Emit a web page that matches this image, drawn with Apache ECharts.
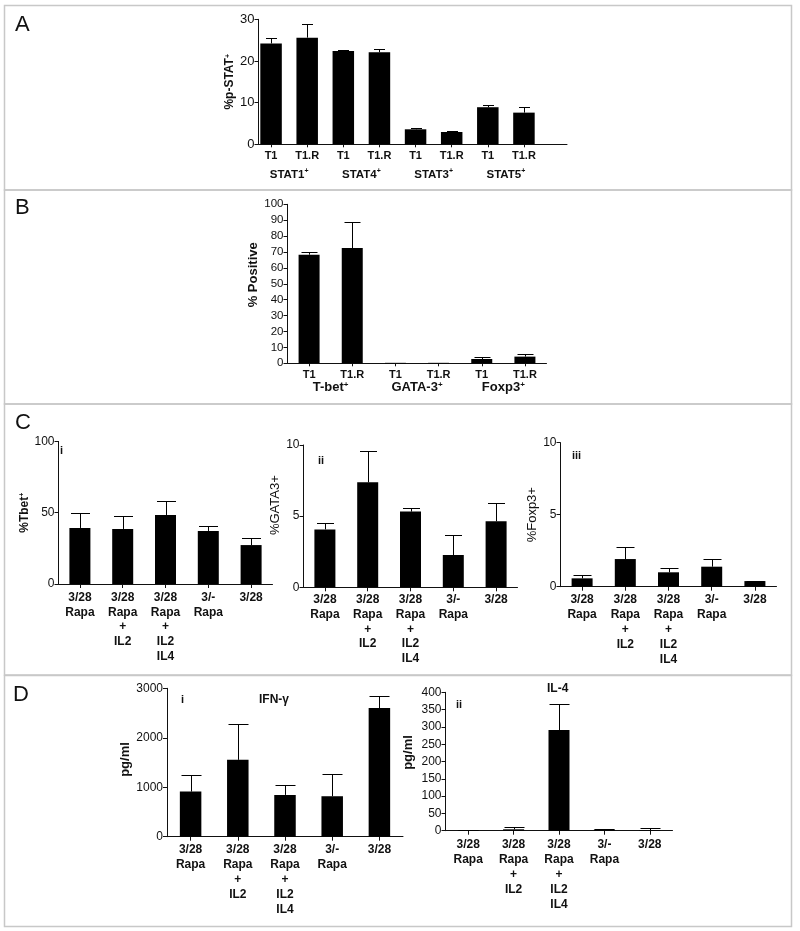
<!DOCTYPE html>
<html><head><meta charset="utf-8">
<script src="https://cdn.jsdelivr.net/npm/echarts@6/dist/echarts.min.js"></script>
<style>html,body{margin:0;padding:0;background:#fff}#c{width:800px;height:931px}</style>
</head><body><div id="c"></div>
<script>
const FONT = '"Liberation Sans", Arial, Helvetica, sans-serif';

// ---- Panel A ----
const A_cats = ['T1', 'T1.R', 'T1', 'T1.R', 'T1', 'T1.R', 'T1', 'T1.R'];
const A_groups = ['STAT1', 'STAT4', 'STAT3', 'STAT5'];
const A_vals = [24.2, 25.6, 22.4, 22.1, 3.6, 2.95, 8.9, 7.6];
const A_sem  = [1.2, 3.2, 0.2, 0.8, 0.3, 0.15, 0.6, 1.3];
// ---- Panel B ----
const B_cats = ['T1', 'T1.R', 'T1', 'T1.R', 'T1', 'T1.R'];
const B_groups = ['T-bet', 'GATA-3', 'Foxp3'];
const B_vals = [68.3, 72.5, 0.3, 0.3, 2.7, 4.2];
const B_sem  = [1.9, 16.5, 0, 0, 1.1, 1.5];
// ---- Panels C & D categories ----
const CD_cats = ['3/28\nRapa', '3/28\nRapa\n+\nIL2', '3/28\nRapa\n+\nIL2\nIL4', '3/-\nRapa', '3/28'];
const Ci_vals = [39.3, 38.6, 48.4, 37.2, 27.3];
const Ci_sem  = [10.3, 9.1, 9.8, 3.5, 4.9];
const Cii_vals = [4.07, 7.38, 5.32, 2.27, 4.64];
const Cii_sem  = [0.47, 2.17, 0.23, 1.38, 1.31];
const Ciii_vals = [0.58, 1.92, 1.0, 1.39, 0.39];
const Ciii_sem  = [0.25, 0.86, 0.27, 0.51, 0.02];
const Di_vals = [912, 1554, 845, 818, 2601];
const Di_sem  = [338, 723, 195, 459, 237];
const Dii_vals = [1.5, 4, 291, 3, 2];
const Dii_sem  = [1, 6, 74, 3, 4.5];

const chart = echarts.init(document.getElementById('c'), null, {renderer: 'canvas'});

const INK = '#111';
const richSup = (size) => ({
  b: {fontFamily: FONT, fontWeight: 'bold', fontSize: size, color: INK},
  s: {fontFamily: FONT, fontWeight: 'bold', fontSize: Math.round(size * 0.62), color: INK, verticalAlign: 'top', lineHeight: Math.round(size * 0.62)}
});

function yAx(g, max, interval, name, nameGap, nameStyle, extra) {
  return Object.assign({
    type: 'value', gridIndex: g, min: 0, max: max, interval: interval,
    axisLine: {show: true, lineStyle: {color: INK, width: 1}},
    axisTick: {show: true, length: 4, lineStyle: {color: INK}},
    axisLabel: {margin: 4, fontSize: 12, color: INK, fontFamily: FONT, formatter: v => String(v)},
    splitLine: {show: false},
    name: name, nameLocation: 'middle', nameGap: nameGap,
    nameTextStyle: Object.assign({fontFamily: FONT, color: INK, fontSize: 12}, nameStyle)
  }, extra || {});
}
function xCat(g, data, margin, labelExtra, extra) {
  return Object.assign({
    type: 'category', gridIndex: g, data: data, position: 'bottom',
    axisLine: {show: true, lineStyle: {color: INK, width: 1}},
    axisTick: {show: true, alignWithLabel: true, length: 4, lineStyle: {color: INK}},
    axisLabel: Object.assign({interval: 0, margin: margin, fontSize: 12, fontWeight: 'bold', lineHeight: 14.8, color: INK, fontFamily: FONT}, labelExtra || {}),
    splitLine: {show: false}
  }, extra || {});
}
function barS(xi, yi, vals, w) {
  return {type: 'bar', xAxisIndex: xi, yAxisIndex: yi, data: vals, barWidth: w,
    itemStyle: {color: '#000'}, silent: true, animation: false};
}
function errS(xi, yi, vals, sem, capW) {
  return {
    type: 'custom', xAxisIndex: xi, yAxisIndex: yi, silent: true, animation: false, z: 5,
    data: vals.map((v, i) => [i, v, v + sem[i]]),
    renderItem: function (params, api) {
      const i = api.value(0), v = api.value(1), e = api.value(2);
      if (!(e > v + 1e-9)) return {type: 'group', children: []};
      const a = api.coord([i, v]), b = api.coord([i, e]);
      const x = Math.round(a[0]) + 0.5, y2 = Math.round(b[1]) + 0.5;
      return {type: 'group', children: [
        {type: 'line', shape: {x1: x, y1: a[1], x2: x, y2: y2}, style: {stroke: '#000', lineWidth: 1}},
        {type: 'line', shape: {x1: x - capW / 2, y1: y2, x2: x + capW / 2, y2: y2}, style: {stroke: '#000', lineWidth: 1}}
      ]};
    }
  };
}

const boxStyle = {fill: 'none', stroke: '#c8c8c8', lineWidth: 1.5};
const t = (text, left, top, size, weight) => ({text: text, left: left, top: top, padding: 0,
  textStyle: {fontFamily: FONT, fontSize: size, fontWeight: weight || 'normal', color: INK}});

const option = {
  backgroundColor: '#fff',
  animation: false,
  title: [
    t('A', 15, 14, 22), t('B', 15, 197, 22), t('C', 15, 412, 22), t('D', 13, 684, 22),
    t('i', 60, 445, 11, 'bold'), t('ii', 318, 455, 11, 'bold'), t('iii', 572, 450, 11, 'bold'),
    t('i', 181, 694, 11, 'bold'), t('IFN-γ', 259, 694, 12, 'bold'),
    t('ii', 456, 699, 11, 'bold'), t('IL-4', 547, 683, 12, 'bold')
  ],
  graphic: [
    {type: 'rect', shape: {x: 4.5, y: 5.5, width: 787, height: 184.5}, style: boxStyle, silent: true},
    {type: 'rect', shape: {x: 4.5, y: 190, width: 787, height: 214}, style: boxStyle, silent: true},
    {type: 'rect', shape: {x: 4.5, y: 404, width: 787, height: 271}, style: boxStyle, silent: true},
    {type: 'rect', shape: {x: 4.5, y: 675.5, width: 787, height: 251}, style: boxStyle, silent: true}
  ],
  grid: [
    {left: 253, top: 19.3, width: 289, height: 125, outerBoundsMode: 'none'},     // 0 A bars
    {left: 258.5, top: 19.3, width: 308.5, height: 125, outerBoundsMode: 'none'}, // 1 A frame
    {left: 287.5, top: 204.3, width: 259, height: 159, outerBoundsMode: 'none'},  // 2 B
    {left: 58.5, top: 441.4, width: 214, height: 142.6, outerBoundsMode: 'none'}, // 3 Ci
    {left: 303.5, top: 445, width: 214, height: 142.3, outerBoundsMode: 'none'},  // 4 Cii
    {left: 560.5, top: 442.7, width: 216, height: 144, outerBoundsMode: 'none'},  // 5 Ciii
    {left: 167, top: 688.3, width: 236, height: 148.4, outerBoundsMode: 'none'},  // 6 Di
    {left: 445.5, top: 692.3, width: 227, height: 138.4, outerBoundsMode: 'none'} // 7 Dii
  ],
  xAxis: [
    xCat(0, A_cats, 4, {fontSize: 11}, {axisLine: {show: false}, axisTick: {show: true, alignWithLabel: true, length: 3, lineStyle: {color: INK}}}),
    xCat(0, A_groups, 23, {formatter: v => '{b|' + v + '}{s|+}', rich: richSup(11.5)}, {axisLine: {show: false}, axisTick: {show: false}}),
    {type: 'value', gridIndex: 1, position: 'bottom', min: 0, max: 1, axisLine: {show: true, lineStyle: {color: INK}}, axisTick: {show: false}, axisLabel: {show: false}, splitLine: {show: false}},
    xCat(2, B_cats, 4, {fontSize: 11}, {axisTick: {show: true, alignWithLabel: true, length: 3, lineStyle: {color: INK}}}),
    xCat(2, B_groups, 17, {formatter: v => '{b|' + v + '}{s|+}', rich: richSup(13)}, {axisLine: {show: false}, axisTick: {show: false}}),
    xCat(3, CD_cats, 6),
    xCat(4, CD_cats, 5),
    xCat(5, CD_cats, 6),
    xCat(6, CD_cats, 6),
    xCat(7, CD_cats, 7)
  ],
  yAxis: [
    yAx(0, 30, 10, '', 0, {}, {show: false}),
    yAx(1, 30, 10, '{b|%p-STAT}{s|+}', 16, {rich: richSup(12)}, {axisLabel: {margin: 4, fontSize: 13, color: INK, fontFamily: FONT}}),
    yAx(2, 100, 10, '% Positive', 20, {fontWeight: 'bold', fontSize: 13, padding: [0, 0, 0, 18]}, {axisLabel: {margin: 4, fontSize: 11.5, color: INK, fontFamily: FONT}}),
    yAx(3, 100, 50, '{b|%Tbet}{s|+}', 24, {rich: richSup(12)}),
    yAx(4, 10, 5, '%GATA3+', 13, {fontSize: 13, padding: [0, 0, 0, 22]}),
    yAx(5, 10, 5, '%Foxp3+', 18, {fontSize: 13}),
    yAx(6, 3000, 1000, 'pg/ml', 30, {fontWeight: 'bold', fontSize: 13, padding: [0, 0, 0, 6]}),
    yAx(7, 400, 50, 'pg/ml', 31, {fontWeight: 'bold', fontSize: 13, padding: [0, 0, 0, 18]})
  ],
  series: [
    barS(0, 0, A_vals, 21.5), errS(0, 0, A_vals, A_sem, 11),
    barS(3, 2, B_vals, 21), errS(3, 2, B_vals, B_sem, 16),
    barS(5, 3, Ci_vals, 21), errS(5, 3, Ci_vals, Ci_sem, 19),
    barS(6, 4, Cii_vals, 21), errS(6, 4, Cii_vals, Cii_sem, 17),
    barS(7, 5, Ciii_vals, 21), errS(7, 5, Ciii_vals, Ciii_sem, 18),
    barS(8, 6, Di_vals, 21.5), errS(8, 6, Di_vals, Di_sem, 20),
    barS(9, 7, Dii_vals, 21), errS(9, 7, Dii_vals, Dii_sem, 20)
  ]
};
chart.setOption(option);
</script>
</body></html>
